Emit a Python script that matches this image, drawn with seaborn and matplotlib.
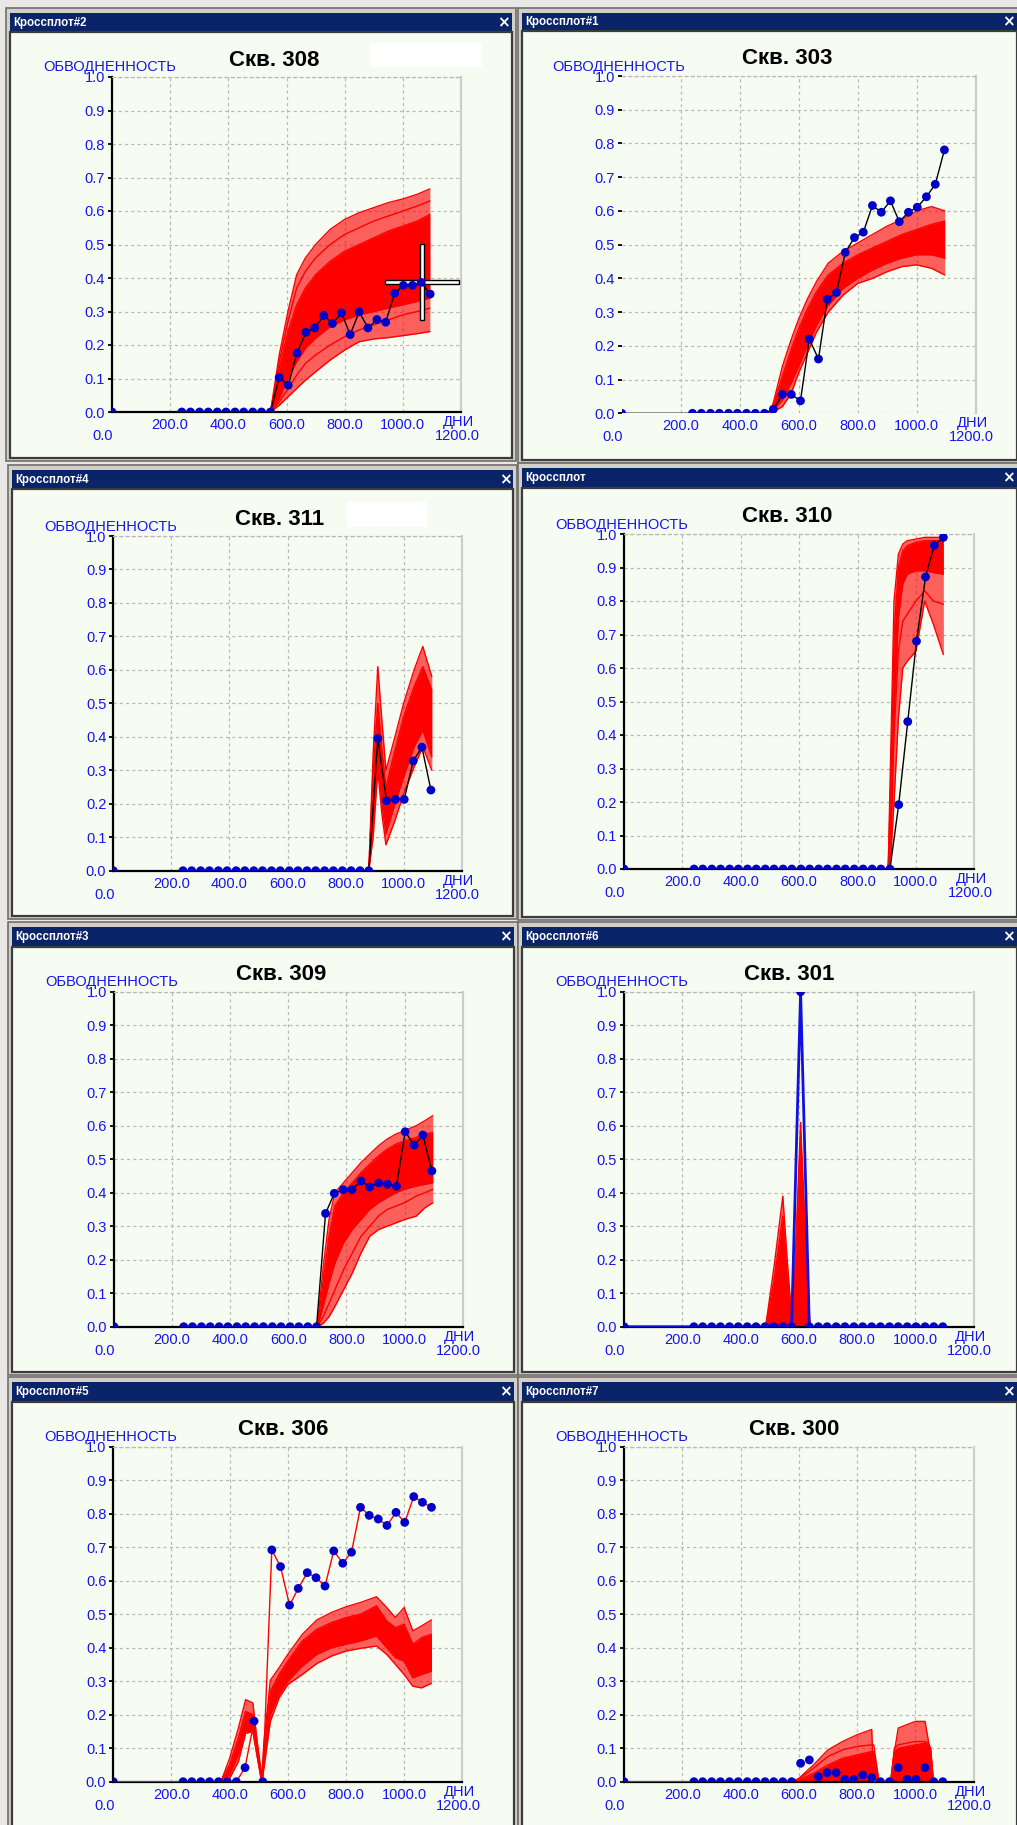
import numpy as np
import pandas as pd
import matplotlib
matplotlib.use("Agg")
import matplotlib.pyplot as plt
import seaborn as sns
from matplotlib.patches import Rectangle

sns.set_theme(style="white")
plt.rcParams["font.family"] = ["Liberation Sans", "DejaVu Sans"]

# ----------------------------------------------------------------- data
OBS_DAYS = [0, 240, 270, 301, 331, 362, 392, 423, 453, 484, 514, 545, 575, 606, 636,
            667, 697, 728, 758, 789, 819, 850, 880, 911, 941, 972, 1002, 1033, 1063, 1094]

OBS_308 = [0, 0, 0, 0, 0, 0, 0, 0, 0, 0, 0, 0, 0.103, 0.08, 0.176, 0.238, 0.251, 0.288,
           0.264, 0.296, 0.231, 0.299, 0.251, 0.276, 0.268, 0.355, 0.378, 0.378, 0.387, 0.352]
OBS_303 = [0, 0, 0, 0, 0, 0, 0, 0, 0, 0, 0.012, 0.056, 0.056, 0.037, 0.22, 0.161, 0.338,
           0.358, 0.477, 0.521, 0.537, 0.616, 0.596, 0.630, 0.568, 0.596, 0.611, 0.642, 0.679, 0.781]
OBS_311 = [0, 0, 0, 0, 0, 0, 0, 0, 0, 0, 0, 0, 0, 0, 0, 0, 0, 0, 0, 0, 0, 0, 0,
           0.395, 0.209, 0.213, 0.213, 0.328, 0.369, 0.241]
OBS_310 = [0, 0, 0, 0, 0, 0, 0, 0, 0, 0, 0, 0, 0, 0, 0, 0, 0, 0, 0, 0, 0, 0, 0, 0,
           0.192, 0.44, 0.68, 0.872, 0.966, 0.99]
OBS_309 = [0, 0, 0, 0, 0, 0, 0, 0, 0, 0, 0, 0, 0, 0, 0, 0, 0, 0.338, 0.398, 0.409, 0.409,
           0.435, 0.417, 0.429, 0.425, 0.419, 0.582, 0.542, 0.572, 0.465]
OBS_301 = [0, 0, 0, 0, 0, 0, 0, 0, 0, 0, 0, 0, 0, 1.0, 0, 0, 0, 0, 0, 0, 0, 0, 0, 0, 0,
           0, 0, 0, 0, 0]
OBS_306 = [0, 0, 0, 0, 0, 0, 0, 0, 0.042, 0.181, 0.0, 0.692, 0.642, 0.527, 0.577, 0.624,
           0.609, 0.584, 0.689, 0.652, 0.685, 0.819, 0.795, 0.784, 0.765, 0.804, 0.774,
           0.851, 0.834, 0.819]
OBS_300 = [0, 0, 0, 0, 0, 0, 0, 0, 0, 0, 0, 0, 0, 0.055, 0.065, 0.015, 0.027, 0.027, 0.007,
           0.007, 0.02, 0.012, 0, 0, 0.042, 0.007, 0.007, 0.042, 0, 0]

# simulated ensemble (envelope / representative members)
SIM308_DAYS = [545, 575, 605, 635, 665, 700, 750, 800, 850, 900, 950, 1000, 1050, 1093]
SIM308_TOP = [0.0, 0.17, 0.30, 0.41, 0.46, 0.50, 0.545, 0.575, 0.595, 0.61, 0.625, 0.636, 0.65, 0.666]
SIM308_UP = [0.0, 0.15, 0.27, 0.37, 0.42, 0.46, 0.50, 0.53, 0.55, 0.57, 0.585, 0.60, 0.615, 0.63]
SIM308_HI = [0.0, 0.13, 0.24, 0.32, 0.37, 0.41, 0.45, 0.48, 0.50, 0.52, 0.54, 0.555, 0.57, 0.59]
SIM308_LO = [0.0, 0.04, 0.10, 0.15, 0.19, 0.22, 0.255, 0.275, 0.29, 0.30, 0.31, 0.32, 0.33, 0.34]
SIM308_LOW = [0.0, 0.03, 0.07, 0.11, 0.145, 0.17, 0.20, 0.225, 0.245, 0.26, 0.275, 0.29, 0.30, 0.31]
SIM308_BOT = [0.0, 0.02, 0.045, 0.07, 0.095, 0.12, 0.155, 0.185, 0.21, 0.218, 0.222, 0.228, 0.234, 0.24]

SIM303_DAYS = [240, 505, 545, 575, 600, 630, 660, 700, 750, 800, 850, 900, 950, 1000, 1050, 1095]
SIM303_TOP = [0, 0, 0.14, 0.22, 0.28, 0.34, 0.39, 0.445, 0.48, 0.505, 0.53, 0.555, 0.575, 0.60, 0.613, 0.60]
SIM303_HI = [0, 0, 0.11, 0.19, 0.25, 0.31, 0.36, 0.41, 0.445, 0.47, 0.49, 0.51, 0.53, 0.545, 0.56, 0.57]
SIM303_LO = [0, 0, 0.04, 0.09, 0.14, 0.20, 0.26, 0.32, 0.37, 0.40, 0.425, 0.445, 0.46, 0.47, 0.47, 0.46]
SIM303_BOT = [0, 0, 0.02, 0.06, 0.12, 0.18, 0.24, 0.30, 0.35, 0.385, 0.40, 0.42, 0.435, 0.44, 0.43, 0.41]

SIM311_DAYS = [880, 895, 911, 925, 939, 970, 1000, 1036, 1066, 1097]
SIM311_TOP = [0, 0.35, 0.61, 0.45, 0.30, 0.40, 0.50, 0.60, 0.67, 0.58]
SIM311_HI = [0, 0.30, 0.50, 0.36, 0.25, 0.36, 0.46, 0.55, 0.61, 0.54]
SIM311_LO = [0, 0.15, 0.33, 0.20, 0.11, 0.20, 0.28, 0.37, 0.42, 0.34]
SIM311_BOT = [0, 0.10, 0.30, 0.17, 0.077, 0.15, 0.23, 0.31, 0.37, 0.30]

SIM310_DAYS = [905, 915, 925, 940, 955, 970, 1000, 1030, 1060, 1094]
SIM310_TOP = [0, 0.40, 0.80, 0.94, 0.97, 0.98, 0.985, 0.99, 0.99, 0.99]
SIM310_HI = [0, 0.30, 0.70, 0.90, 0.95, 0.965, 0.975, 0.98, 0.98, 0.98]
SIM310_LO = [0, 0.15, 0.45, 0.75, 0.85, 0.88, 0.89, 0.89, 0.885, 0.88]
SIM310_MID = [0, 0.10, 0.40, 0.65, 0.74, 0.76, 0.80, 0.83, 0.80, 0.79]
SIM310_BOT = [0, 0.05, 0.20, 0.45, 0.60, 0.62, 0.65, 0.80, 0.73, 0.64]

SIM309_DAYS = [700, 720, 740, 760, 790, 820, 850, 880, 910, 940, 970, 1000, 1040, 1070, 1097]
SIM309_TOP = [0, 0.18, 0.32, 0.40, 0.43, 0.46, 0.49, 0.515, 0.54, 0.56, 0.575, 0.585, 0.60, 0.615, 0.63]
SIM309_HI = [0, 0.14, 0.27, 0.36, 0.40, 0.43, 0.46, 0.485, 0.51, 0.53, 0.545, 0.555, 0.565, 0.575, 0.58]
SIM309_LO = [0, 0.06, 0.13, 0.19, 0.25, 0.29, 0.32, 0.35, 0.37, 0.385, 0.40, 0.41, 0.42, 0.425, 0.43]
SIM309_LOW = [0, 0.03, 0.07, 0.11, 0.17, 0.22, 0.27, 0.30, 0.33, 0.35, 0.36, 0.37, 0.39, 0.40, 0.41]
SIM309_BOT = [0, 0.01, 0.03, 0.06, 0.11, 0.16, 0.22, 0.27, 0.29, 0.30, 0.31, 0.32, 0.33, 0.355, 0.37]

SIM301_DAYS = [0, 486, 515, 545, 560, 578, 592, 606, 620, 638, 1100]
SIM301_TOP = [0, 0, 0.18, 0.39, 0.20, 0, 0.30, 0.61, 0.32, 0, 0]
SIM301_HI = [0, 0, 0.14, 0.33, 0.15, 0, 0.27, 0.57, 0.28, 0, 0]
SIM301_LO = [0, 0, 0, 0, 0, 0, 0, 0, 0, 0, 0]
SIM301_MID = [0, 0, 0.05, 0.15, 0.06, 0, 0.12, 0.40, 0.12, 0, 0]

SIM306_DAYS = [0, 370, 400, 430, 455, 480, 510, 518, 540, 570, 600, 650, 700, 750, 800, 850,
               905, 940, 970, 1000, 1030, 1060, 1094]
SIM306_TOP = [0, 0, 0.07, 0.16, 0.245, 0.235, 0, 0.12, 0.303, 0.34, 0.38, 0.44, 0.483, 0.505,
              0.522, 0.535, 0.552, 0.52, 0.49, 0.52, 0.45, 0.465, 0.483]
SIM306_HI = [0, 0, 0.05, 0.13, 0.21, 0.20, 0, 0.10, 0.27, 0.32, 0.36, 0.42, 0.455, 0.475,
             0.49, 0.50, 0.525, 0.48, 0.46, 0.47, 0.41, 0.43, 0.44]
SIM306_LO = [0, 0, 0.02, 0.08, 0.15, 0.15, 0, 0.06, 0.20, 0.26, 0.30, 0.345, 0.38, 0.40,
             0.41, 0.42, 0.435, 0.40, 0.37, 0.36, 0.31, 0.32, 0.33]
SIM306_BOT = [0, 0, 0.01, 0.06, 0.144, 0.15, 0, 0.04, 0.18, 0.25, 0.29, 0.32, 0.353, 0.375,
              0.39, 0.398, 0.405, 0.38, 0.35, 0.32, 0.285, 0.28, 0.294]

SIM300_DAYS = [0, 575, 600, 650, 700, 750, 800, 850, 857, 875, 915, 928, 941, 970, 1000,
               1033, 1045, 1052, 1062, 1100]
SIM300_TOP = [0, 0, 0.01, 0.05, 0.095, 0.12, 0.14, 0.156, 0.0, 0.0, 0, 0.09, 0.16, 0.17,
              0.18, 0.18, 0.12, 0.0, 0, 0]
SIM300_MID = [0, 0, 0.008, 0.04, 0.075, 0.095, 0.105, 0.11, 0.11, 0.0, 0, 0.10, 0.11, 0.115,
              0.12, 0.12, 0.115, 0.10, 0, 0]
SIM300_HI = [0, 0, 0.005, 0.025, 0.05, 0.07, 0.08, 0.09, 0.09, 0.0, 0, 0.09, 0.10, 0.105,
             0.11, 0.115, 0.11, 0.10, 0, 0]
SIM300_LO = [0, 0, 0, 0, 0, 0, 0, 0, 0, 0, 0, 0, 0, 0, 0, 0, 0, 0, 0, 0]

X_GRID = [200, 400, 600, 800, 1000]
X_MINOR = [100, 300, 500, 700, 900, 1100]
X_LABELS = ["200.0", "400.0", "600.0", "800.0", "1000.0"]
Y_TICKS = [0.0, 0.1, 0.2, 0.3, 0.4, 0.5, 0.6, 0.7, 0.8, 0.9, 1.0]
Y_LABELS = ["0.0", "0.1", "0.2", "0.3", "0.4", "0.5", "0.6", "0.7", "0.8", "0.9", "1.0"]
Y_NAME = "ОБВОДНЕННОСТЬ"
X_NAME = "ДНИ"

PANELS = [
    dict(well="308", obs=OBS_308, obs_color="black", days=SIM308_DAYS,
         curves=[SIM308_TOP, SIM308_UP, SIM308_HI, SIM308_LO, SIM308_LOW, SIM308_BOT],
         hi=SIM308_HI, lo=SIM308_LO, top=SIM308_TOP, bot=SIM308_BOT),
    dict(well="303", obs=OBS_303, obs_color="black", days=SIM303_DAYS,
         curves=[SIM303_TOP, SIM303_HI, SIM303_LO, SIM303_BOT],
         hi=SIM303_HI, lo=SIM303_LO, top=SIM303_TOP, bot=SIM303_BOT),
    dict(well="311", obs=OBS_311, obs_color="black", days=SIM311_DAYS,
         curves=[SIM311_TOP, SIM311_HI, SIM311_LO, SIM311_BOT],
         hi=SIM311_HI, lo=SIM311_LO, top=SIM311_TOP, bot=SIM311_BOT),
    dict(well="310", obs=OBS_310, obs_color="black", days=SIM310_DAYS,
         curves=[SIM310_TOP, SIM310_HI, SIM310_LO, SIM310_MID, SIM310_BOT],
         hi=SIM310_HI, lo=SIM310_LO, top=SIM310_TOP, bot=SIM310_BOT),
    dict(well="309", obs=OBS_309, obs_color="black", days=SIM309_DAYS,
         curves=[SIM309_TOP, SIM309_HI, SIM309_LO, SIM309_LOW, SIM309_BOT],
         hi=SIM309_HI, lo=SIM309_LO, top=SIM309_TOP, bot=SIM309_BOT),
    dict(well="301", obs=OBS_301, obs_color="#1010e0", days=SIM301_DAYS,
         curves=[SIM301_TOP, SIM301_HI, SIM301_MID],
         hi=SIM301_HI, lo=SIM301_LO, top=SIM301_TOP, bot=SIM301_LO),
    dict(well="306", obs=OBS_306, obs_color="red", days=SIM306_DAYS,
         curves=[SIM306_TOP, SIM306_HI, SIM306_LO, SIM306_BOT],
         hi=SIM306_HI, lo=SIM306_LO, top=SIM306_TOP, bot=SIM306_BOT),
    dict(well="300", obs=OBS_300, obs_color=None, days=SIM300_DAYS,
         curves=[SIM300_TOP, SIM300_MID, SIM300_HI],
         hi=SIM300_HI, lo=SIM300_LO, top=SIM300_TOP, bot=SIM300_LO),
]

CURSOR308 = (1066, 0.388)

# ----------------------------------------------------------------- layout (pixels)
W, H = 1017, 1825
WINDOWS = [
    (10, 512, 13, 31, 458, "Кроссплот#2", 503),
    (522, 1017, 13, 30, 460, "Кроссплот#1", 1008),
    (12, 513, 470, 488, 916, "Кроссплот#4", 505),
    (522, 1017, 468, 487, 917, "Кроссплот", 1008),
    (12, 514, 927, 946, 1372, "Кроссплот#3", 505),
    (522, 1017, 927, 946, 1372, "Кроссплот#6", 1008),
    (12, 514, 1382, 1401, 1830, "Кроссплот#5", 505),
    (522, 1017, 1382, 1401, 1830, "Кроссплот#7", 1008),
]
AX_BOX = [
    (112, 461, 77, 412),
    (621.7, 975.7, 76, 413.3),
    (113.3, 461.7, 536, 870.7),
    (624, 974.3, 534, 869),
    (114, 462.7, 991.7, 1326.7),
    (624, 973.7, 991.7, 1326.7),
    (113.3, 462.3, 1446.7, 1781.7),
    (624, 973.7, 1446.7, 1781.7),
]
TITLE_X = [0.465, 0.467, 0.476, 0.467, 0.479, 0.471, 0.486, 0.487]
NO_AXIS_LINES = {"303"}

BLUE_TXT = "#1414f0"
MARK = "#0000c8"
RED = "#ff0000"
BG = "#f7fcf3"
TICK_FONT = ["Liberation Sans Narrow", "Liberation Sans", "DejaVu Sans"]

fig = plt.figure(figsize=(W / 100, H / 100), dpi=100)
fig.patch.set_facecolor("#e8e7e3")

bg = fig.add_axes([0, 0, 1, 1])
bg.set_xlim(0, W)
bg.set_ylim(H, 0)
bg.axis("off")

for (x0, x1, tt, tb, cb, wtitle, cx) in WINDOWS:
    bg.add_patch(Rectangle((x0 - 4, tt - 5), x1 - x0 + 8, cb - tt + 8,
                           facecolor="#d4d0c8", edgecolor="#6e6e6e", lw=1.2))
    bg.add_patch(Rectangle((x0, tt), x1 - x0, tb - tt, facecolor="#0a246a", edgecolor="none"))
    bg.add_patch(Rectangle((x0, tb + 1), x1 - x0, cb - tb - 1, facecolor=BG,
                           edgecolor="#3c3c3c", lw=1.6))
    bg.text(x0 + 3, (tt + tb) / 2 + 0.5, wtitle, color="white", fontsize=8.3,
            fontweight="bold", ha="left", va="center")
    bg.text(cx, (tt + tb) / 2 + 0.5, "×", color="white", fontsize=11,
            fontweight="bold", ha="center", va="center", family="DejaVu Sans")

# white patches covering legends
bg.add_patch(Rectangle((370, 43), 112, 24, facecolor="white", edgecolor="none"))
bg.add_patch(Rectangle((347, 502), 80, 25, facecolor="white", edgecolor="none"))


def make_ax(box):
    x0, x1, yt, yb = box
    return fig.add_axes([x0 / W, 1 - yb / H, (x1 - x0) / W, (yb - yt) / H])


for i, p in enumerate(PANELS):
    ax = make_ax(AX_BOX[i])
    ax.set_facecolor("none")
    ax.set_xlim(0, 1200)
    ax.set_ylim(0, 1)

    # grid
    ax.set_xticks(X_GRID)
    ax.set_xticklabels([])
    ax.set_xticks(X_MINOR, minor=True)
    ax.set_yticks(Y_TICKS)
    ax.set_yticklabels(Y_LABELS, color=BLUE_TXT, fontsize=10.5, family=TICK_FONT)
    ax.set_axisbelow(True)
    ax.grid(True, which="major", color="#b9b9b9", linestyle=(0, (2.5, 2.5)), lw=0.9)
    ax.tick_params(axis="x", which="major", length=0)
    ax.tick_params(axis="x", which="minor", length=3, width=1.3, color="black", direction="out")
    ax.tick_params(axis="y", which="major", length=3, width=1.3, color="black",
                   direction="out", pad=2, left=True)

    for s in ("left", "bottom"):
        ax.spines[s].set_color("black")
        ax.spines[s].set_linewidth(1.6)
        ax.spines[s].set_visible(p["well"] not in NO_AXIS_LINES)
    ax.spines["top"].set_color("#b9b9b9")
    ax.spines["top"].set_linestyle((0, (2.5, 2.5)))
    ax.spines["top"].set_linewidth(0.9)
    ax.spines["right"].set_color("#cdcdcd")
    ax.spines["right"].set_linewidth(1.6)

    # ensemble: outer envelope, dense core, member lines
    d = np.array(p["days"])
    ax.fill_between(d, p["bot"], p["top"], color=RED, alpha=0.62, lw=0, zorder=2.2)
    ax.fill_between(d, p["lo"], p["hi"], color=RED, alpha=1.0, lw=0, zorder=2.3)
    sim_df = pd.concat([pd.DataFrame({"day": p["days"], "val": c, "member": k})
                        for k, c in enumerate(p["curves"])], ignore_index=True)
    sns.lineplot(data=sim_df, x="day", y="val", units="member", estimator=None,
                 color=RED, lw=1.0, ax=ax, zorder=2.6, legend=False)

    if p["well"] == "308":
        cx, cy = CURSOR308
        ax.add_patch(Rectangle((cx - 127, cy - 0.007), 254, 0.014, facecolor="white",
                               edgecolor="black", lw=1.0, zorder=2.8))
        ax.add_patch(Rectangle((cx - 7, cy - 0.113), 14, 0.226, facecolor="white",
                               edgecolor="black", lw=1.0, zorder=2.8))

    obs_df = pd.DataFrame({"day": OBS_DAYS, "val": p["obs"]})
    if p["obs_color"] is not None:
        lw = 2.0 if p["well"] == "301" else 1.0
        sns.lineplot(data=obs_df, x="day", y="val", color=p["obs_color"], lw=lw,
                     ax=ax, zorder=3, sort=False, estimator=None, legend=False)
    sns.scatterplot(data=obs_df, x="day", y="val", color=MARK, s=40, edgecolor="none",
                    marker="o", ax=ax, zorder=4, legend=False)

    ax.set_xlabel("")
    ax.set_ylabel("")

    # x labels
    for xv, lab in zip(X_GRID, X_LABELS):
        ax.annotate(lab, xy=(xv, 0), xycoords=("data", "axes fraction"), xytext=(0, -13),
                    textcoords="offset pixels", ha="center", va="center",
                    color=BLUE_TXT, fontsize=10.5, family=TICK_FONT)
    ax.annotate("0.0", xy=(0, 0), xycoords=("data", "axes fraction"), xytext=(-9, -24),
                textcoords="offset pixels", ha="center", va="center",
                color=BLUE_TXT, fontsize=10.5, family=TICK_FONT)
    ax.annotate(X_NAME, xy=(1200, 0), xycoords=("data", "axes fraction"), xytext=(-3, -10),
                textcoords="offset pixels", ha="center", va="center",
                color=BLUE_TXT, fontsize=10.5, family=TICK_FONT)
    ax.annotate("1200.0", xy=(1200, 0), xycoords=("data", "axes fraction"), xytext=(-4, -24),
                textcoords="offset pixels", ha="center", va="center",
                color=BLUE_TXT, fontsize=10.5, family=TICK_FONT)
    # y name
    ax.annotate(Y_NAME, xy=(0, 1), xycoords="axes fraction", xytext=(-69, 9.5),
                textcoords="offset pixels", ha="left", va="center",
                color=BLUE_TXT, fontsize=10.5)
    # title
    ax.annotate(f"Скв. {p['well']}", xy=(TITLE_X[i], 1), xycoords="axes fraction",
                xytext=(0, 17), textcoords="offset pixels", ha="center", va="center",
                color="black", fontsize=16, fontweight="bold")

fig.savefig("out.png", dpi=100, facecolor=fig.get_facecolor())
